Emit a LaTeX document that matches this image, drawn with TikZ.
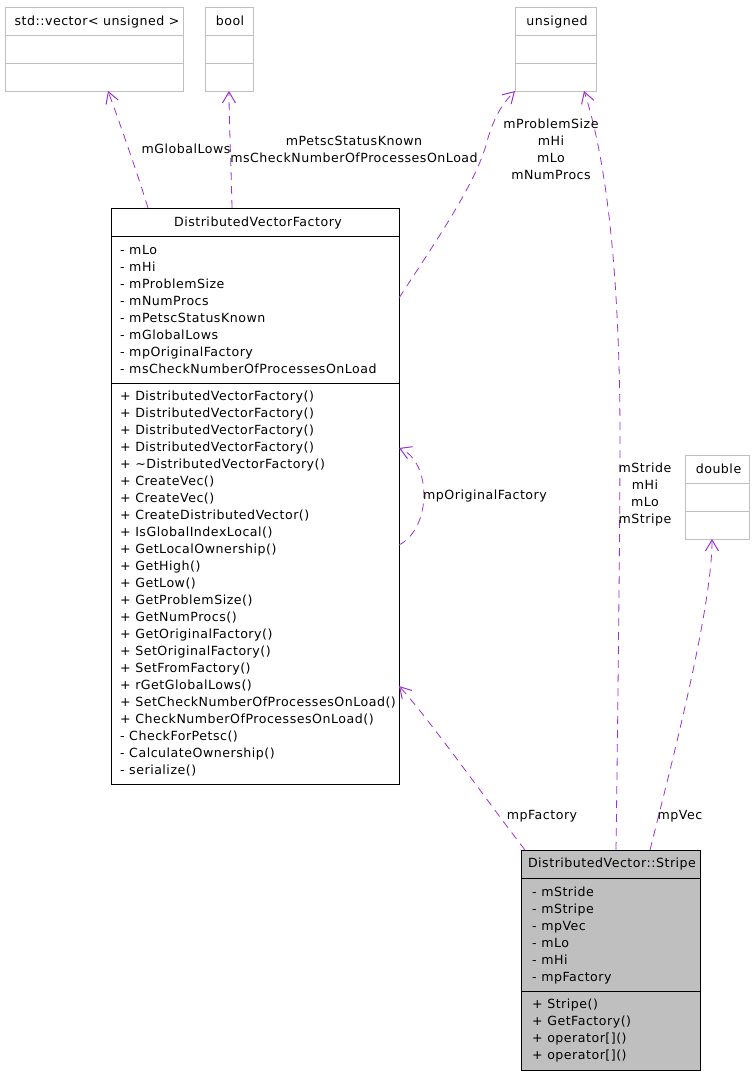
\documentclass[tikz,border=0pt]{standalone}
\usepackage{fontspec}
\setmainfont{DejaVu Sans}[LetterSpace=4]
\usetikzlibrary{arrows.meta,calc}
\definecolor{edgec}{RGB}{154,50,205}
\definecolor{greyb}{RGB}{191,191,191}
\begin{document}
\begin{tikzpicture}[x=1pt,y=-1pt,
  font=\fontsize{12.6}{17}\selectfont,
  classbox/.style={draw=black, line width=0.9pt, anchor=north west, inner sep=0pt, outer sep=0pt},
  extbox/.style={draw=greyb, line width=0.9pt, anchor=north west, inner sep=0pt, outer sep=0pt},
  txt/.style={inner sep=0pt, anchor=base},
  ltxt/.style={inner sep=0pt, anchor=base west},
  lbl/.style={inner sep=0pt, align=center, font=\fontsize{12.6}{17}\selectfont},
  rel/.style={draw=edgec, line width=0.8pt, dash pattern=on 8pt off 6pt, -{Straight Barb[length=11pt,width=13pt,line width=1pt]}},
]
\useasboundingbox (0,0) rectangle (755,1075);

% ---- std::vector< unsigned >
\node[extbox, minimum width=178, minimum height=84] (vec) at (5,7) {};
\draw[greyb, line width=0.9pt] ($(vec.north west)+(0,28)$) -- ($(vec.north east)+(0,28)$);
\draw[greyb, line width=0.9pt] ($(vec.north west)+(0,56)$) -- ($(vec.north east)+(0,56)$);
\node[txt] (vect) at (97,25.5) {std::vector< unsigned >};

% ---- bool
\node[extbox, minimum width=48, minimum height=84] (bool) at (205,7) {};
\draw[greyb, line width=0.9pt] ($(bool.north west)+(0,28)$) -- ($(bool.north east)+(0,28)$);
\draw[greyb, line width=0.9pt] ($(bool.north west)+(0,56)$) -- ($(bool.north east)+(0,56)$);
\node[txt] (boolt) at (230,25.5) {bool};

% ---- unsigned
\node[extbox, minimum width=81, minimum height=84] (uns) at (515,7) {};
\draw[greyb, line width=0.9pt] ($(uns.north west)+(0,28)$) -- ($(uns.north east)+(0,28)$);
\draw[greyb, line width=0.9pt] ($(uns.north west)+(0,56)$) -- ($(uns.north east)+(0,56)$);
\node[txt] (unst) at (557,25.5) {unsigned};

% ---- double
\node[extbox, minimum width=64, minimum height=84] (dbl) at (685,455) {};
\draw[greyb, line width=0.9pt] ($(dbl.north west)+(0,28)$) -- ($(dbl.north east)+(0,28)$);
\draw[greyb, line width=0.9pt] ($(dbl.north west)+(0,56)$) -- ($(dbl.north east)+(0,56)$);
\node[txt] (dblt) at (718.5,473.5) {double};

% ---- DistributedVectorFactory
\node[classbox, fill=white, minimum width=288, minimum height=576] (dvf) at (111,208) {};
\draw[black, line width=0.9pt] ($(dvf.north west)+(0,28)$) -- ($(dvf.north east)+(0,28)$);
\draw[black, line width=0.9pt] ($(dvf.north west)+(0,175)$) -- ($(dvf.north east)+(0,175)$);
\node[txt] (dvft) at (258,226.5) {DistributedVectorFactory};
\foreach \t [count=\i] in {- mLo,- mHi,- mProblemSize,- mNumProcs,- mPetscStatusKnown,- mGlobalLows,- mpOriginalFactory,- msCheckNumberOfProcessesOnLoad}
  \node[ltxt] (dvfa\i) at (120,{254.5+17*(\i-1)}) {\t};
\foreach \t [count=\i] in {+ DistributedVectorFactory(),+ DistributedVectorFactory(),+ DistributedVectorFactory(),+ DistributedVectorFactory(),+ \textasciitilde DistributedVectorFactory(),+ CreateVec(),+ CreateVec(),+ CreateDistributedVector(),+ IsGlobalIndexLocal(),+ GetLocalOwnership(),+ GetHigh(),+ GetLow(),+ GetProblemSize(),+ GetNumProcs(),+ GetOriginalFactory(),+ SetOriginalFactory(),+ SetFromFactory(),+ rGetGlobalLows(),+ SetCheckNumberOfProcessesOnLoad(),+ CheckNumberOfProcessesOnLoad(),- CheckForPetsc(),- CalculateOwnership(),- serialize()}
  \node[ltxt] (dvfm\i) at (120,{400.5+17*(\i-1)}) {\t};

% ---- DistributedVector::Stripe
\node[classbox, fill=greyb, minimum width=179, minimum height=220] (str) at (521,850) {};
\draw[black, line width=0.9pt] ($(str.north west)+(0,28)$) -- ($(str.north east)+(0,28)$);
\draw[black, line width=0.9pt] ($(str.north west)+(0,141)$) -- ($(str.north east)+(0,141)$);
\node[txt] (strt) at (612,867.5) {DistributedVector::Stripe};
\foreach \t [count=\i] in {- mStride,- mStripe,- mpVec,- mLo,- mHi,- mpFactory}
  \node[ltxt] (stra\i) at (532,{896.5+17*(\i-1)}) {\t};
\foreach \t [count=\i] in {+ Stripe(),+ GetFactory(),{+ operator[]()},{+ operator[]()}}
  \node[ltxt] (strm\i) at (532,{1008.5+17*(\i-1)}) {\t};

% ---- connectors
\draw[rel] ($(dvf.north west)+(37,0)$) .. controls (138,175) and (118,118) .. ($(vec.south west)+(103,0)$);
\draw[rel] ($(dvf.north west)+(121,0)$) .. controls (231,160) and (229,120) .. ($(bool.south west)+(24,0)$);
\draw[rel] ($(dvf.north east)+(0,90)$) .. controls (440,235) and (478,180) .. (488,138) .. controls (495,115) and (503,103) .. (uns.south west);
\draw[rel] ($(str.north west)+(95,0)$) .. controls (618,700) and (620,520) .. (620,440) .. controls (620,300) and (610,170) .. ($(uns.south west)+(69,0)$);
\draw[rel] ($(str.north west)+(129,0)$) .. controls (670,770) and (712,610) .. ($(dbl.south west)+(27,0)$);
\draw[rel] ($(str.north west)+(4,0)$) .. controls (490,805) and (430,720) .. ($(dvf.north east)+(0,478)$);
\draw[rel] ($(dvf.north east)+(0,337)$) .. controls (432,528) and (432,462) .. ($(dvf.north east)+(0,240)$);

% ---- connector labels
\node[lbl] (lglob) at (186,149) {mGlobalLows};
\node[lbl] (lbool) at (354,149) {mPetscStatusKnown\\msCheckNumberOfProcessesOnLoad};
\node[lbl] (luns) at (551,149) {mProblemSize\\mHi\\mLo\\mNumProcs};
\node[lbl] (lstr) at (645,495) {mStride\\mHi\\mLo\\mStripe};
\node[lbl] (lorig) at (485,496) {mpOriginalFactory};
\node[lbl] (lfac) at (542,816) {mpFactory};
\node[lbl] (lvec) at (680,816) {mpVec};
\end{tikzpicture}
\end{document}
